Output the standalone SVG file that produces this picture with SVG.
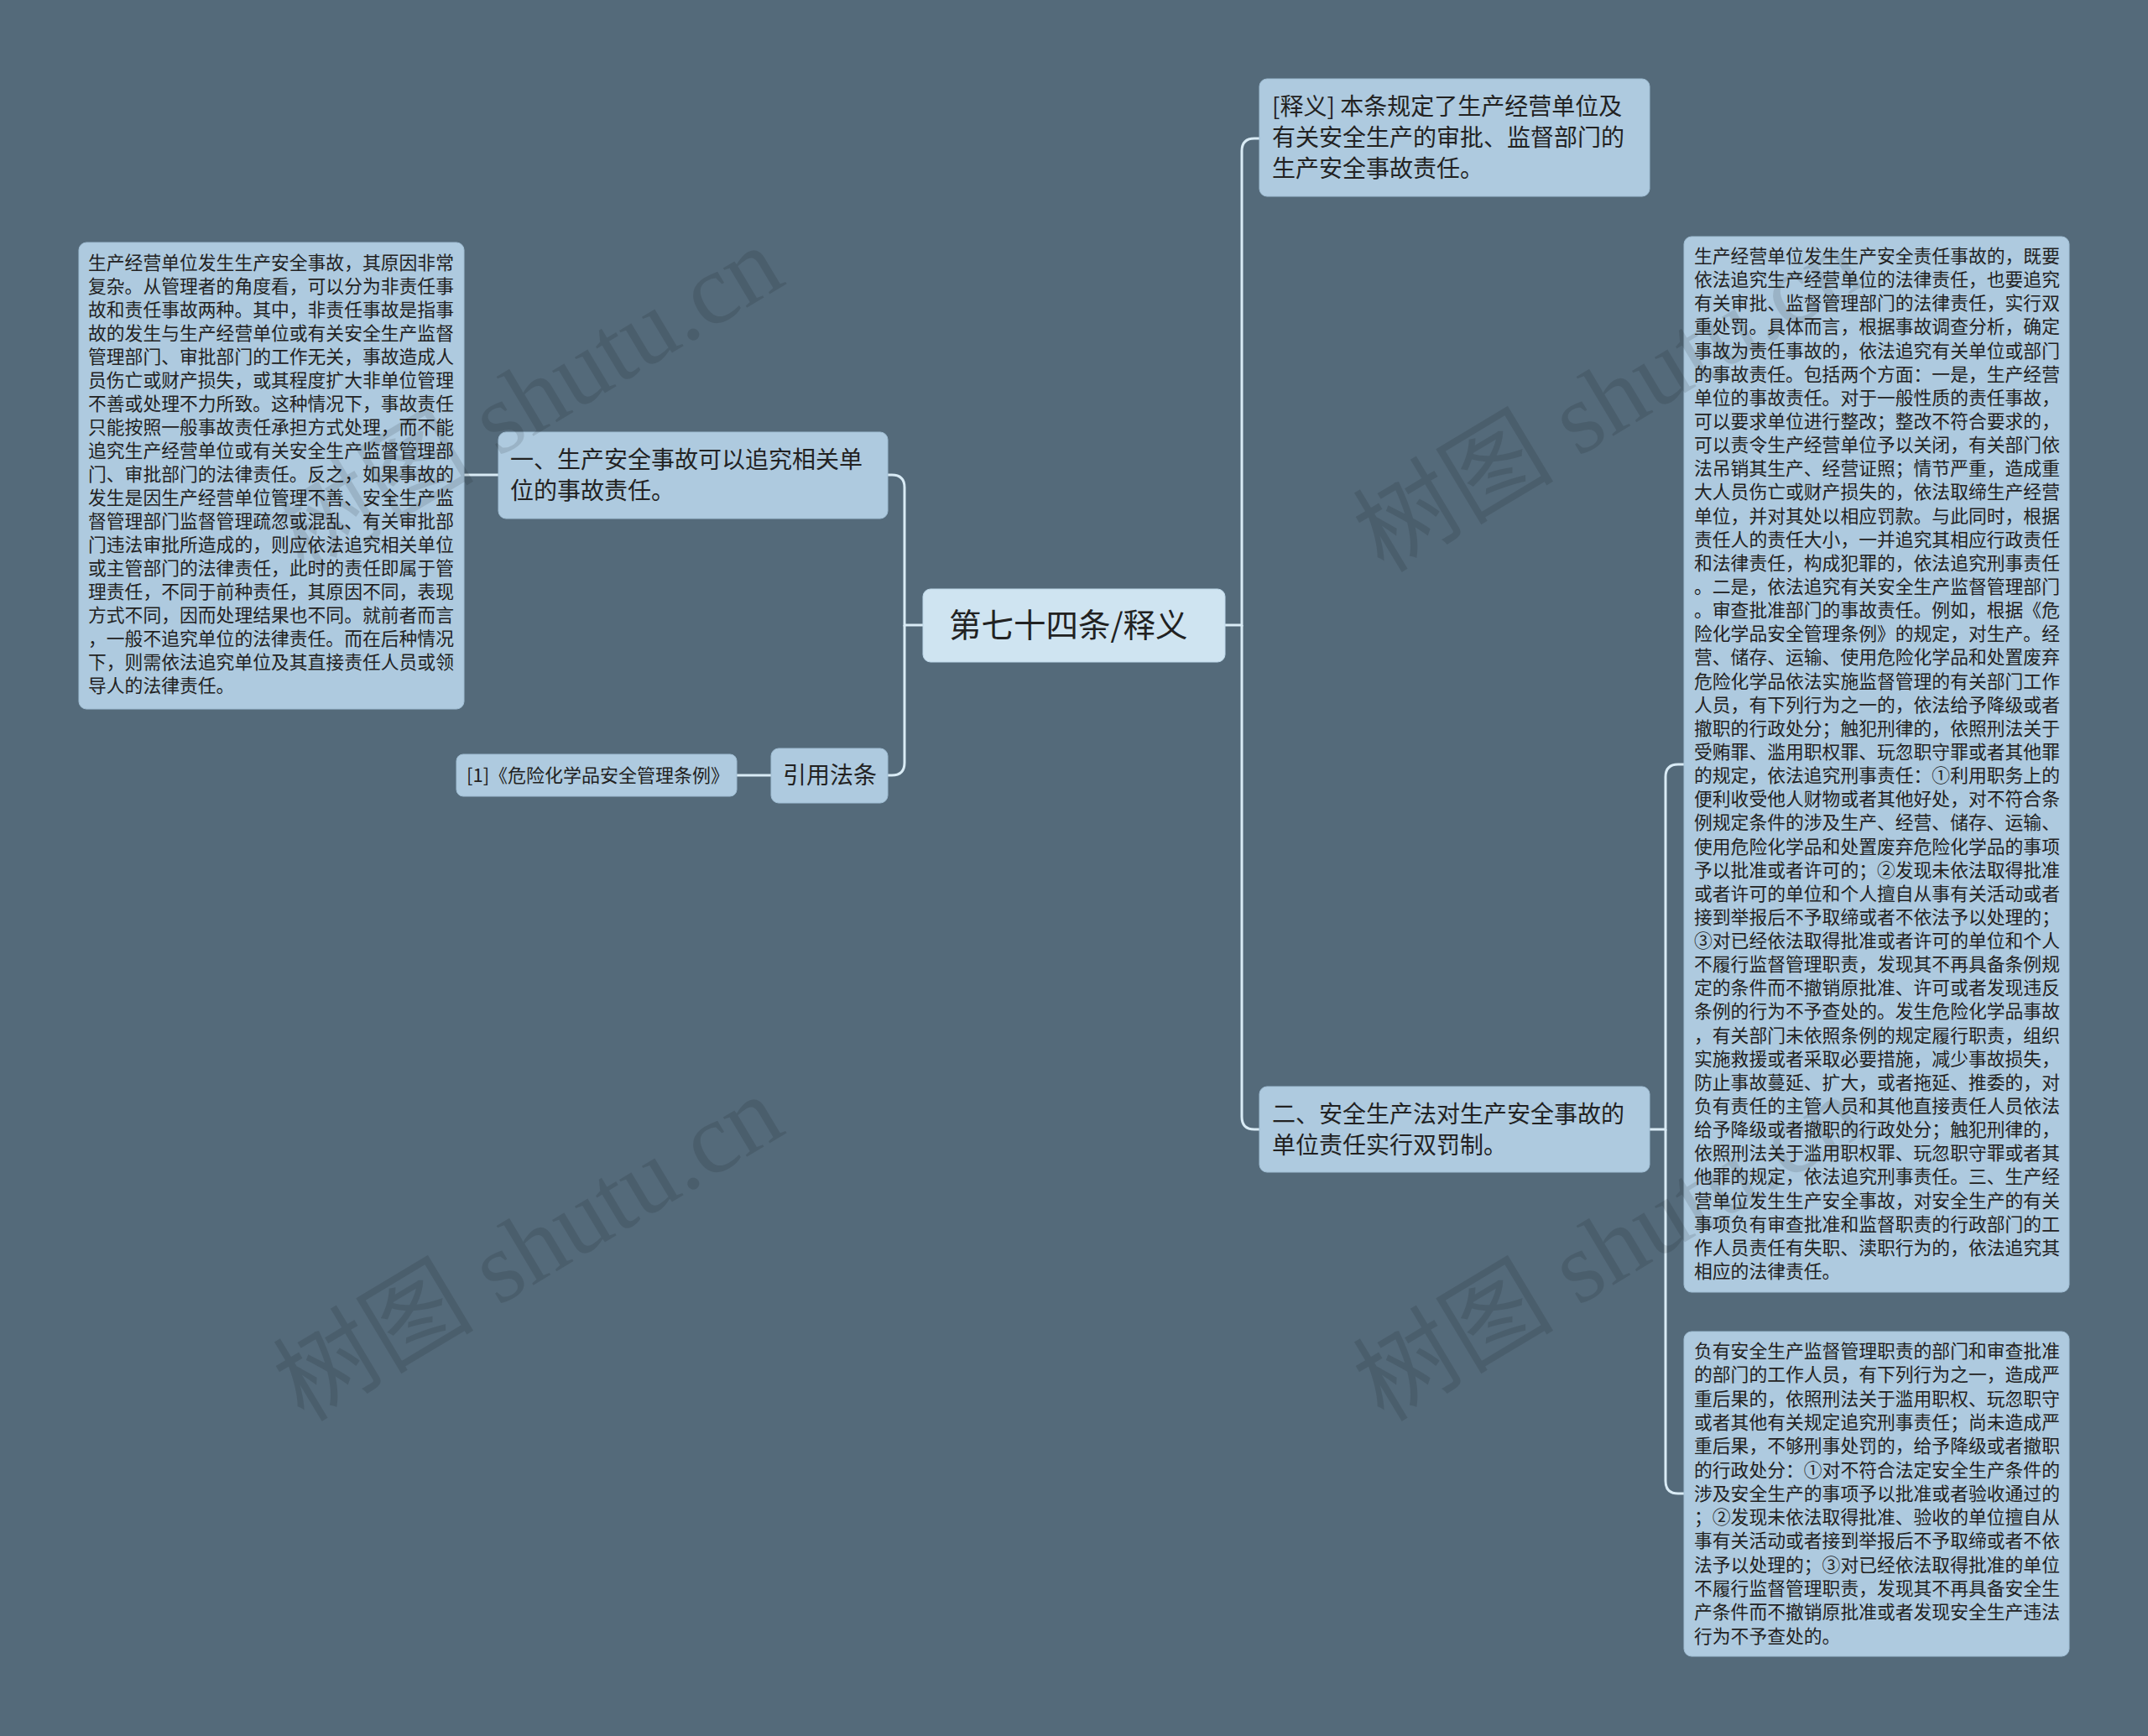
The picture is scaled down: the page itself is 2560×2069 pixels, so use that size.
<svg xmlns="http://www.w3.org/2000/svg" width="2560" height="2069" viewBox="0 0 2560 2069">
<style>
.bg{fill:#546a7a}
.node{fill:#aecadf;stroke:#9fbdd3;stroke-width:1}
.root{fill:#cfe4f1;stroke:#bcd6e8;stroke-width:1}
.t{font-family:"Noto Sans CJK SC","Noto Sans",sans-serif;fill:#222}
.t28{font-size:28px}
.t22{font-size:22px}
.small{font-size:21.8px}
.big{font-size:38.5px}
.link{fill:none;stroke:#d9ebf5;stroke-width:3}
.wm{font-family:"Liberation Serif","Noto Sans CJK SC",serif;font-size:120px;fill:#000;fill-opacity:0.11}
</style>
<rect class="bg" x="0" y="0" width="2560" height="2069"/>

<g id="connectors">
<path class="link" d="M1460 745 H1480 V180 Q1480 165 1495 165 H1501"/>
<path class="link" d="M1480 745 V1331 Q1480 1346 1495 1346 H1501"/>
<path class="link" d="M1100 745 H1078 V581 Q1078 566 1063 566 H1058"/>
<path class="link" d="M1078 745 V909 Q1078 924 1063 924 H1058"/>
<path class="link" d="M553 566 H594"/>
<path class="link" d="M878 924 H919"/>
<path class="link" d="M1966 1346 H1985 V926 Q1985 911 2000 911 H2007"/>
<path class="link" d="M1985 1346 V1765 Q1985 1780 2000 1780 H2007"/>
</g>

<g id="root">
<rect class="root" x="1100" y="702" width="360" height="87" rx="9"/>
<text class="t big" x="1131" y="759">第七十四条/释义</text>
</g>

<g id="node-shiyi">
<rect class="node" x="1501" y="94" width="465" height="140" rx="9"/>
<text class="t t28"><tspan x="1516" y="137">[释义] 本条规定了生产经营单位及</tspan><tspan x="1516" y="174">有关安全生产的审批、监督部门的</tspan><tspan x="1516" y="211">生产安全事故责任。</tspan></text>
</g>

<g id="node-er">
<rect class="node" x="1501" y="1295" width="465" height="102" rx="9"/>
<text class="t t28"><tspan x="1516" y="1338">二、安全生产法对生产安全事故的</tspan><tspan x="1516" y="1375">单位责任实行双罚制。</tspan></text>
</g>

<g id="node-yi">
<rect class="node" x="594" y="515" width="464" height="103" rx="9"/>
<text class="t t28"><tspan x="608" y="558">一、生产安全事故可以追究相关单</tspan><tspan x="608" y="595">位的事故责任。</tspan></text>
</g>

<g id="node-yinyong">
<rect class="node" x="919" y="892" width="139" height="65" rx="9"/>
<text class="t t28" x="933" y="934">引用法条</text>
</g>

<g id="node-law">
<rect class="node" x="544" y="899" width="334" height="50" rx="8"/>
<text class="t t22" x="556" y="932">[1]《危险化学品安全管理条例》</text>
</g>

<g id="node-left-detail">
<rect class="node" x="94" y="289" width="459" height="556" rx="9"/>
<text class="t small">
<tspan x="105" y="321">生产经营单位发生生产安全事故，其原因非常</tspan>
<tspan x="105" y="349">复杂。从管理者的角度看，可以分为非责任事</tspan>
<tspan x="105" y="377">故和责任事故两种。其中，非责任事故是指事</tspan>
<tspan x="105" y="405">故的发生与生产经营单位或有关安全生产监督</tspan>
<tspan x="105" y="433">管理部门、审批部门的工作无关，事故造成人</tspan>
<tspan x="105" y="461">员伤亡或财产损失，或其程度扩大非单位管理</tspan>
<tspan x="105" y="489">不善或处理不力所致。这种情况下，事故责任</tspan>
<tspan x="105" y="517">只能按照一般事故责任承担方式处理，而不能</tspan>
<tspan x="105" y="545">追究生产经营单位或有关安全生产监督管理部</tspan>
<tspan x="105" y="573">门、审批部门的法律责任。反之，如果事故的</tspan>
<tspan x="105" y="601">发生是因生产经营单位管理不善、安全生产监</tspan>
<tspan x="105" y="629">督管理部门监督管理疏忽或混乱、有关审批部</tspan>
<tspan x="105" y="657">门违法审批所造成的，则应依法追究相关单位</tspan>
<tspan x="105" y="685">或主管部门的法律责任，此时的责任即属于管</tspan>
<tspan x="105" y="713">理责任，不同于前种责任，其原因不同，表现</tspan>
<tspan x="105" y="741">方式不同，因而处理结果也不同。就前者而言</tspan>
<tspan x="105" y="769">，一般不追究单位的法律责任。而在后种情况</tspan>
<tspan x="105" y="797">下，则需依法追究单位及其直接责任人员或领</tspan>
<tspan x="105" y="825">导人的法律责任。</tspan>
</text>
</g>

<g id="node-right-detail">
<rect class="node" x="2007" y="282" width="459" height="1258" rx="9"/>
<text class="t small">
<tspan x="2019" y="313">生产经营单位发生生产安全责任事故的，既要</tspan>
<tspan x="2019" y="341.14">依法追究生产经营单位的法律责任，也要追究</tspan>
<tspan x="2019" y="369.28">有关审批、监督管理部门的法律责任，实行双</tspan>
<tspan x="2019" y="397.42">重处罚。具体而言，根据事故调查分析，确定</tspan>
<tspan x="2019" y="425.56">事故为责任事故的，依法追究有关单位或部门</tspan>
<tspan x="2019" y="453.7">的事故责任。包括两个方面：一是，生产经营</tspan>
<tspan x="2019" y="481.84">单位的事故责任。对于一般性质的责任事故，</tspan>
<tspan x="2019" y="509.98">可以要求单位进行整改；整改不符合要求的，</tspan>
<tspan x="2019" y="538.12">可以责令生产经营单位予以关闭，有关部门依</tspan>
<tspan x="2019" y="566.26">法吊销其生产、经营证照；情节严重，造成重</tspan>
<tspan x="2019" y="594.4">大人员伤亡或财产损失的，依法取缔生产经营</tspan>
<tspan x="2019" y="622.54">单位，并对其处以相应罚款。与此同时，根据</tspan>
<tspan x="2019" y="650.68">责任人的责任大小，一并追究其相应行政责任</tspan>
<tspan x="2019" y="678.82">和法律责任，构成犯罪的，依法追究刑事责任</tspan>
<tspan x="2019" y="706.96">。二是，依法追究有关安全生产监督管理部门</tspan>
<tspan x="2019" y="735.1">。审查批准部门的事故责任。例如，根据《危</tspan>
<tspan x="2019" y="763.24">险化学品安全管理条例》的规定，对生产。经</tspan>
<tspan x="2019" y="791.38">营、储存、运输、使用危险化学品和处置废弃</tspan>
<tspan x="2019" y="819.52">危险化学品依法实施监督管理的有关部门工作</tspan>
<tspan x="2019" y="847.66">人员，有下列行为之一的，依法给予降级或者</tspan>
<tspan x="2019" y="875.8">撤职的行政处分；触犯刑律的，依照刑法关于</tspan>
<tspan x="2019" y="903.94">受贿罪、滥用职权罪、玩忽职守罪或者其他罪</tspan>
<tspan x="2019" y="932.08">的规定，依法追究刑事责任：①利用职务上的</tspan>
<tspan x="2019" y="960.22">便利收受他人财物或者其他好处，对不符合条</tspan>
<tspan x="2019" y="988.36">例规定条件的涉及生产、经营、储存、运输、</tspan>
<tspan x="2019" y="1016.5">使用危险化学品和处置废弃危险化学品的事项</tspan>
<tspan x="2019" y="1044.64">予以批准或者许可的；②发现未依法取得批准</tspan>
<tspan x="2019" y="1072.78">或者许可的单位和个人擅自从事有关活动或者</tspan>
<tspan x="2019" y="1100.92">接到举报后不予取缔或者不依法予以处理的；</tspan>
<tspan x="2019" y="1129.06">③对已经依法取得批准或者许可的单位和个人</tspan>
<tspan x="2019" y="1157.2">不履行监督管理职责，发现其不再具备条例规</tspan>
<tspan x="2019" y="1185.34">定的条件而不撤销原批准、许可或者发现违反</tspan>
<tspan x="2019" y="1213.48">条例的行为不予查处的。发生危险化学品事故</tspan>
<tspan x="2019" y="1241.62">，有关部门未依照条例的规定履行职责，组织</tspan>
<tspan x="2019" y="1269.76">实施救援或者采取必要措施，减少事故损失，</tspan>
<tspan x="2019" y="1297.9">防止事故蔓延、扩大，或者拖延、推委的，对</tspan>
<tspan x="2019" y="1326.04">负有责任的主管人员和其他直接责任人员依法</tspan>
<tspan x="2019" y="1354.18">给予降级或者撤职的行政处分；触犯刑律的，</tspan>
<tspan x="2019" y="1382.32">依照刑法关于滥用职权罪、玩忽职守罪或者其</tspan>
<tspan x="2019" y="1410.46">他罪的规定，依法追究刑事责任。三、生产经</tspan>
<tspan x="2019" y="1438.6">营单位发生生产安全事故，对安全生产的有关</tspan>
<tspan x="2019" y="1466.74">事项负有审查批准和监督职责的行政部门的工</tspan>
<tspan x="2019" y="1494.88">作人员责任有失职、渎职行为的，依法追究其</tspan>
<tspan x="2019" y="1523.02">相应的法律责任。</tspan>
</text>
</g>

<g id="node-bottom-detail">
<rect class="node" x="2007" y="1587" width="459" height="387" rx="9"/>
<text class="t small">
<tspan x="2019" y="1618">负有安全生产监督管理职责的部门和审查批准</tspan>
<tspan x="2019" y="1646.3">的部门的工作人员，有下列行为之一，造成严</tspan>
<tspan x="2019" y="1674.6">重后果的，依照刑法关于滥用职权、玩忽职守</tspan>
<tspan x="2019" y="1702.9">或者其他有关规定追究刑事责任；尚未造成严</tspan>
<tspan x="2019" y="1731.2">重后果，不够刑事处罚的，给予降级或者撤职</tspan>
<tspan x="2019" y="1759.5">的行政处分：①对不符合法定安全生产条件的</tspan>
<tspan x="2019" y="1787.8">涉及安全生产的事项予以批准或者验收通过的</tspan>
<tspan x="2019" y="1816.1">；②发现未依法取得批准、验收的单位擅自从</tspan>
<tspan x="2019" y="1844.4">事有关活动或者接到举报后不予取缔或者不依</tspan>
<tspan x="2019" y="1872.7">法予以处理的；③对已经依法取得批准的单位</tspan>
<tspan x="2019" y="1901">不履行监督管理职责，发现其不再具备安全生</tspan>
<tspan x="2019" y="1929.3">产条件而不撤销原批准或者发现安全生产违法</tspan>
<tspan x="2019" y="1957.6">行为不予查处的。</tspan>
</text>
</g>

<g id="watermarks">
<text class="wm" transform="translate(362 684) rotate(-31)">树图 shutu.cn</text>
<text class="wm" transform="translate(362 1696) rotate(-31)">树图 shutu.cn</text>
<text class="wm" transform="translate(1649 684) rotate(-31)">树图 shutu.cn</text>
<text class="wm" transform="translate(1649 1696) rotate(-31)">树图 shutu.cn</text>
</g>
</svg>
